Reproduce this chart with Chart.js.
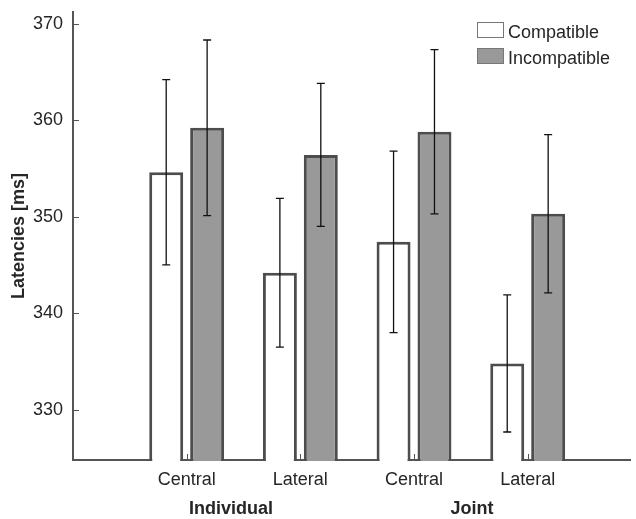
<!DOCTYPE html>
<html>
<head>
<meta charset="utf-8">
<title>Latencies</title>
<script src="https://cdn.jsdelivr.net/npm/chart.js"></script>
<style>
  body { margin: 0; background: #fff; }
  #wrap { width: 636px; height: 519px; position: relative; }
</style>
</head>
<body>
<div id="wrap"><canvas id="myChart"></canvas></div>
<script>
// categories on the x axis and the two groups under them
var categories = ['Central', 'Lateral', 'Central', 'Lateral'];
var groups = ['Individual', 'Joint'];

// mean latencies and error bar half-lengths (ms)
var compatible = [354.6, 344.2, 347.4, 334.8];
var compatibleErr = [9.6, 7.7, 9.4, 7.1];
var incompatible = [359.2, 356.4, 358.8, 350.3];
var incompatibleErr = [9.1, 7.4, 8.5, 8.2];

// tick values
var xTicks = [1, 2, 3, 4];
var yTicks = [330, 340, 350, 360, 370];

var FONT = '"Liberation Sans", Arial, Helvetica, sans-serif';
var TEXT = '#262626';
var AXIS = '#555555';

Chart.defaults.font.family = FONT;
Chart.defaults.font.size = 18;
Chart.defaults.color = TEXT;

function points(values) {
  return values.map(function (v, i) { return { x: xTicks[i], y: v }; });
}

// error bars, inward tick marks, legend and group labels
var extras = {
  id: 'extras',
  afterDatasetsDraw: function (chart, args, opts) {
    var ctx = chart.ctx;
    var y = chart.scales.y;
    var x = chart.scales.x;
    var area = chart.chartArea;
    ctx.save();

    // error bars
    ctx.strokeStyle = '#111111';
    ctx.lineWidth = 1.3;
    chart.data.datasets.forEach(function (ds, di) {
      var meta = chart.getDatasetMeta(di);
      meta.data.forEach(function (bar, i) {
        var v = ds.data[i].y, e = ds.errors[i];
        var top = y.getPixelForValue(v + e);
        var bot = y.getPixelForValue(v - e);
        ctx.beginPath();
        ctx.moveTo(bar.x, top); ctx.lineTo(bar.x, bot);
        ctx.moveTo(bar.x - 4, top); ctx.lineTo(bar.x + 4, top);
        ctx.moveTo(bar.x - 4, bot); ctx.lineTo(bar.x + 4, bot);
        ctx.stroke();
      });
    });

    // tick marks point into the plot
    ctx.strokeStyle = AXIS;
    ctx.lineWidth = 1;
    ctx.beginPath();
    y.ticks.forEach(function (t) {
      var py = Math.round(y.getPixelForValue(t.value)) + 0.5;
      ctx.moveTo(area.left, py); ctx.lineTo(area.left + 6, py);
    });
    x.ticks.forEach(function (t) {
      var px = Math.round(x.getPixelForValue(t.value)) + 0.5;
      ctx.moveTo(px, area.bottom); ctx.lineTo(px, area.bottom - 6);
    });
    ctx.stroke();
    ctx.restore();
  },
  afterDraw: function (chart, args, opts) {
    var ctx = chart.ctx;
    var area = chart.chartArea;
    var x = chart.scales.x;
    ctx.save();

    // legend, top right inside the axes
    var lx = area.right - 153, ly = area.top + 10;
    ctx.font = '18px ' + FONT;
    ctx.textAlign = 'left';
    ctx.textBaseline = 'alphabetic';
    chart.data.datasets.forEach(function (ds, i) {
      var by = ly + i * 26;
      ctx.fillStyle = ds.backgroundColor;
      ctx.fillRect(lx, by, 26, 15);
      ctx.strokeStyle = '#777777';
      ctx.lineWidth = 1;
      ctx.strokeRect(lx + 0.5, by + 0.5, 26, 15);
      ctx.fillStyle = TEXT;
      ctx.fillText(ds.label, lx + 31, by + 16);
    });

    // group labels under the category labels
    ctx.font = 'bold 18px ' + FONT;
    ctx.textAlign = 'center';
    ctx.textBaseline = 'middle';
    groups.forEach(function (g, i) {
      ctx.fillText(g, x.getPixelForValue(opts.groupAt[i]), area.bottom + 49);
    });
    ctx.restore();
  }
};

var ctx = document.getElementById('myChart').getContext('2d');
var myChart = new Chart(ctx, {
  type: 'bar',
  data: {
    datasets: [
      {
        label: 'Compatible',
        data: points(compatible),
        errors: compatibleErr,
        backgroundColor: '#ffffff',
        borderColor: '#4d4d4d',
        borderWidth: 3,
        base: 300,
        clip: { left: 0, top: 0, right: 0, bottom: 1 }
      },
      {
        label: 'Incompatible',
        data: points(incompatible),
        errors: incompatibleErr,
        backgroundColor: '#999999',
        borderColor: '#4d4d4d',
        borderWidth: 3,
        base: 300,
        clip: { left: 0, top: 0, right: 0, bottom: 1 }
      }
    ]
  },
  plugins: [extras],
  options: {
    responsive: true,
    maintainAspectRatio: false,
    animation: false,
    layout: { padding: { top: 12, right: 6, left: 0, bottom: 0 } },
    datasets: {
      bar: { categoryPercentage: 0.72, barPercentage: 0.83 }
    },
    plugins: {
      legend: { display: false },
      tooltip: { enabled: false },
      extras: { groupAt: [1.39, 3.51] }
    },
    scales: {
      x: {
        type: 'linear',
        offset: false,
        min: 0,
        max: 4.9,
        grid: { display: false, drawTicks: false, offset: false },
        border: { display: true, color: AXIS, width: 2 },
        afterBuildTicks: function (scale) {
          scale.ticks = xTicks.map(function (v) { return { value: v }; });
        },
        ticks: {
          padding: 9,
          maxRotation: 0,
          autoSkip: false,
          callback: function (v) { return categories[xTicks.indexOf(v)]; }
        },
        afterFit: function (scale) {
          scale.height = 59;
          scale.paddingLeft = 0;
          scale.paddingRight = 0;
        }
      },
      y: {
        min: 324.8,
        max: 371.2,
        grid: { display: false, drawTicks: false },
        border: { display: true, color: AXIS, width: 2 },
        afterBuildTicks: function (scale) {
          scale.ticks = yTicks.map(function (v) { return { value: v }; });
        },
        ticks: { padding: 10 },
        title: {
          display: true,
          text: 'Latencies [ms]',
          font: { weight: 'bold', size: 18 },
          padding: { top: 8, bottom: 0 }
        },
        afterFit: function (scale) {
          scale.width = 73;
          scale.paddingTop = 0;
          scale.paddingBottom = 0;
        }
      }
    }
  }
});
</script>
</body>
</html>
